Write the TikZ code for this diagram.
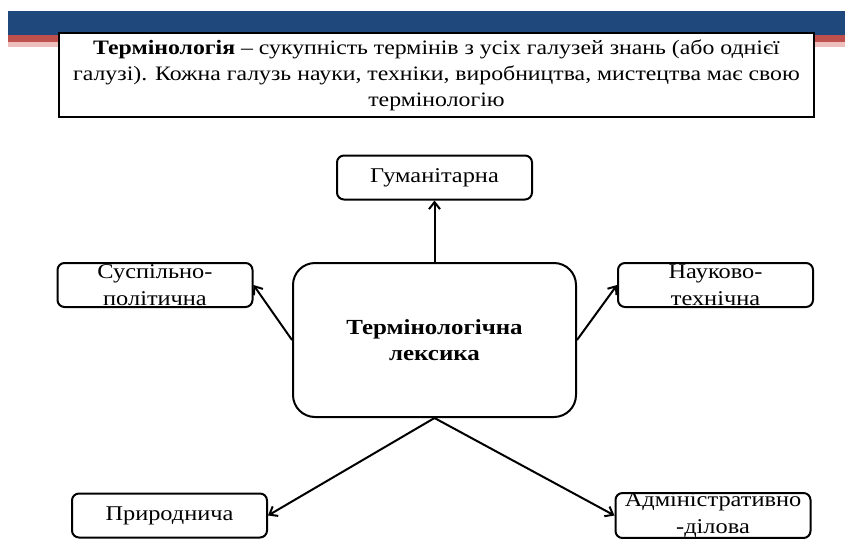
\documentclass[tikz,border=0pt]{standalone}
\usepackage{fontspec}
\setmainfont{Liberation Serif}[FakeStretch=1.16]
\usetikzlibrary{arrows.meta}

\definecolor{bannerblue}{RGB}{31,73,125}
\definecolor{bannerred}{RGB}{192,80,77}
\definecolor{bannerpink}{RGB}{236,190,188}

\begin{document}
\begin{tikzpicture}[x=1pt, y=-1pt, >={Straight Barb[length=7pt,width=11pt]}]
			%define block styles
			\tikzset{
				defn/.style={rectangle, draw=black, line width=2pt, fill=white, minimum width=755pt, minimum height=84pt, align=center, font=\fontsize{20.5}{26}\selectfont},
				core/.style={rectangle, rounded corners=22pt, draw=black, line width=2pt, minimum width=283pt, minimum height=154pt, align=center, font=\fontsize{21.5}{26}\selectfont\bfseries},
				leaf/.style={rectangle, rounded corners=7pt, draw=black, line width=2pt, minimum width=195pt, minimum height=44pt, inner sep=0pt, align=center, font=\fontsize{21}{27}\selectfont},
				arrow/.style={line width=2pt, ->},
			}
			\useasboundingbox (0,0) rectangle (845,538);
			%banner
			\fill[bannerblue] (8,11) rectangle (845,35);
			\fill[bannerred] (8,35) rectangle (845,42);
			\fill[bannerpink] (8,42) rectangle (845,47);
			%define nodes
			\node[defn](term) at (436.5,75){\textbf{Термінологія} – сукупність термінів з усіх галузей знань (або однієї\\галузі). Кожна галузь науки, техніки, виробництва, мистецтва має свою\\термінологію};
			\node[core](lex) at (434.5,340){Термінологічна\\лексика};
			\node[leaf](hum) at (434.5,177.5){Гуманітарна};
			\node[leaf](soc) at (155,285){Суспільно-\\політична};
			\node[leaf](sci) at (715.5,285){Науково-\\технічна};
			\node[leaf](nat) at (169.5,515.5){Природнича};
			\node[leaf](adm) at (713,515.5){Адміністративно\\-ділова};
			%define arrows
			\draw[arrow] (lex) -- (hum);
			\draw[arrow] (lex.west) -- (soc.east);
			\draw[arrow] (lex.east) -- (sci.west);
			\draw[arrow] (lex.south) -- (nat.east);
			\draw[arrow] (lex.south) -- (adm.west);
\end{tikzpicture}
\end{document}
